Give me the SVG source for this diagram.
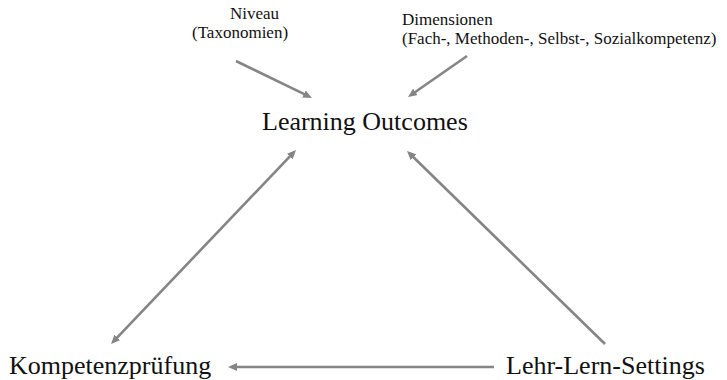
<svg xmlns="http://www.w3.org/2000/svg" width="727" height="380" viewBox="0 0 727 380">
  <style>
    .conn { stroke: #858585; stroke-width: 2.6; fill: none; stroke-linecap: butt; }
    .lbl { font-family: "Liberation Serif", "Times New Roman", serif; fill: #111; }
    .big { font-size: 26px; }
    .small { font-size: 17px; }
  </style>
  <defs>
    <marker id="ah" viewBox="0 0 9 8" markerWidth="9" markerHeight="8" refX="5" refY="4" orient="auto-start-reverse" markerUnits="userSpaceOnUse">
      <path d="M0,0 L9,4 L0,8 z" fill="#858585"/>
    </marker>
  </defs>
  <rect width="727" height="380" fill="#ffffff"/>
  <g id="connectors">
    <line class="conn" x1="236" y1="61" x2="308.4" y2="96.2" marker-end="url(#ah)"/>
    <line class="conn" x1="467" y1="56" x2="411.3" y2="94.7" marker-end="url(#ah)"/>
    <line class="conn" x1="113.8" y1="341.1" x2="293.2" y2="152.9" marker-start="url(#ah)" marker-end="url(#ah)"/>
    <line class="conn" x1="605" y1="344" x2="409.9" y2="153.8" marker-end="url(#ah)"/>
    <line class="conn" x1="494" y1="367" x2="232" y2="367" marker-end="url(#ah)"/>
  </g>
  <g id="niveau">
    <text class="lbl small" x="230" y="18.5">Niveau</text>
    <text class="lbl small" x="192" y="37.5">(Taxonomien)</text>
  </g>
  <g id="dimensionen">
    <text class="lbl small" x="402" y="24.5">Dimensionen</text>
    <text class="lbl small" x="402" y="43.5">(Fach-, Methoden-, Selbst-, Sozialkompetenz)</text>
  </g>
  <g id="learning-outcomes">
    <text class="lbl big" x="262" y="130">Learning Outcomes</text>
  </g>
  <g id="kompetenzpruefung">
    <text class="lbl big" x="9" y="374">Kompetenzprüfung</text>
  </g>
  <g id="lehr-lern-settings">
    <text class="lbl big" x="506" y="374">Lehr-Lern-Settings</text>
  </g>
</svg>
